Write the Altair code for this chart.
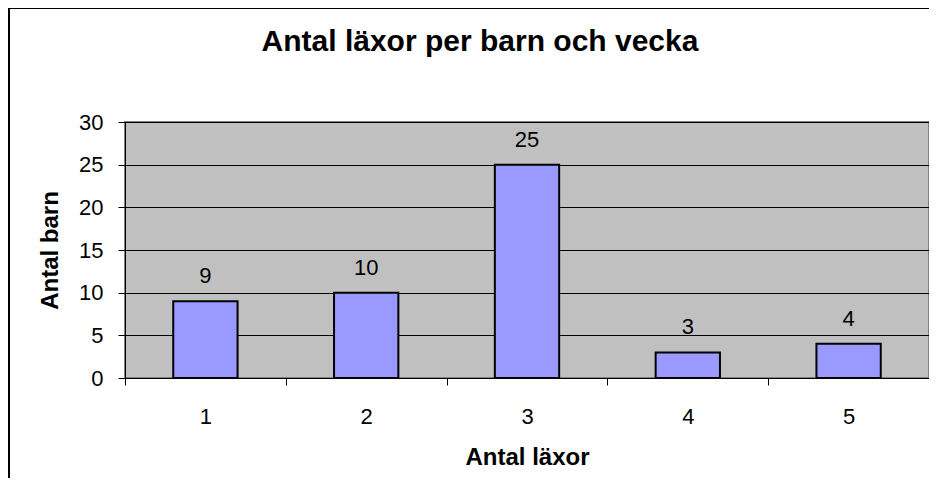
import altair as alt
import pandas as pd

categories = ["1", "2", "3", "4", "5"]
counts = [9, 10, 25, 3, 4]

df = pd.DataFrame({"laxor": categories, "barn": counts})
FONT = "Liberation Sans"

base = alt.Chart(df)

bars = base.mark_bar(
    width=alt.RelativeBandSize(0.4), fill="#9999FF", stroke="black", strokeWidth=2
).encode(
    x=alt.X(
        "laxor:O",
        sort=categories,
        title="Antal läxor",
        scale=alt.Scale(paddingInner=0, paddingOuter=0),
        axis=alt.Axis(
            labelAngle=0, tickBand="extent", grid=False, tickSize=7,
            labelBaseline="middle", labelPadding=31, labelFontSize=22,
            titleFontSize=24, titleFontWeight="bold", titleY=79,
            titleBaseline="middle", domainColor="black", tickColor="black",
            labelColor="black", titleColor="black", labelFont=FONT, titleFont=FONT,
        ),
    ),
    y=alt.Y(
        "barn:Q",
        title="Antal barn",
        scale=alt.Scale(domain=[0, 30], nice=False),
        axis=alt.Axis(
            values=[0, 5, 10, 15, 20, 25, 30], tickSize=7, labelPadding=15,
            labelFontSize=22, gridColor="black", gridWidth=1,
            domainColor="black", tickColor="black", labelColor="black",
            titleColor="black", titleFontSize=24, titleFontWeight="bold",
            titleX=-75, titleY=128, titleAngle=-90, titleBaseline="middle",
            titleAlign="center", labelFont=FONT, titleFont=FONT,
        ),
    ),
)

labels = base.mark_text(
    font=FONT, fontSize=22, color="black", baseline="alphabetic", dy=-18
).encode(
    x=alt.X("laxor:O", sort=categories),
    y="barn:Q",
    text="barn:Q",
)

border = alt.Chart(alt.Data(values=[{}])).mark_rect(
    fill="transparent", stroke="black", strokeWidth=2
).encode(
    x=alt.value(-116), x2=alt.value(900), y=alt.value(-114), y2=alt.value(500)
)

chart = alt.layer(border, bars, labels).properties(
    width=804,
    height=256,
    background="white",
    title=alt.TitleParams(
        "Antal läxor per barn och vecka", font=FONT, fontSize=30,
        fontWeight="bold", anchor="middle", frame="group", dx=-47,
        offset=0, baseline="alphabetic", dy=74, color="black",
    ),
    padding={"left": 117, "top": 114, "right": 0, "bottom": 100},
    autosize=alt.AutoSizeParams(type="none"),
).configure_view(
    fill="#C0C0C0", stroke="#808080", strokeWidth=2
)

chart.save("out.html", embed_options={"renderer": "svg", "actions": False})
